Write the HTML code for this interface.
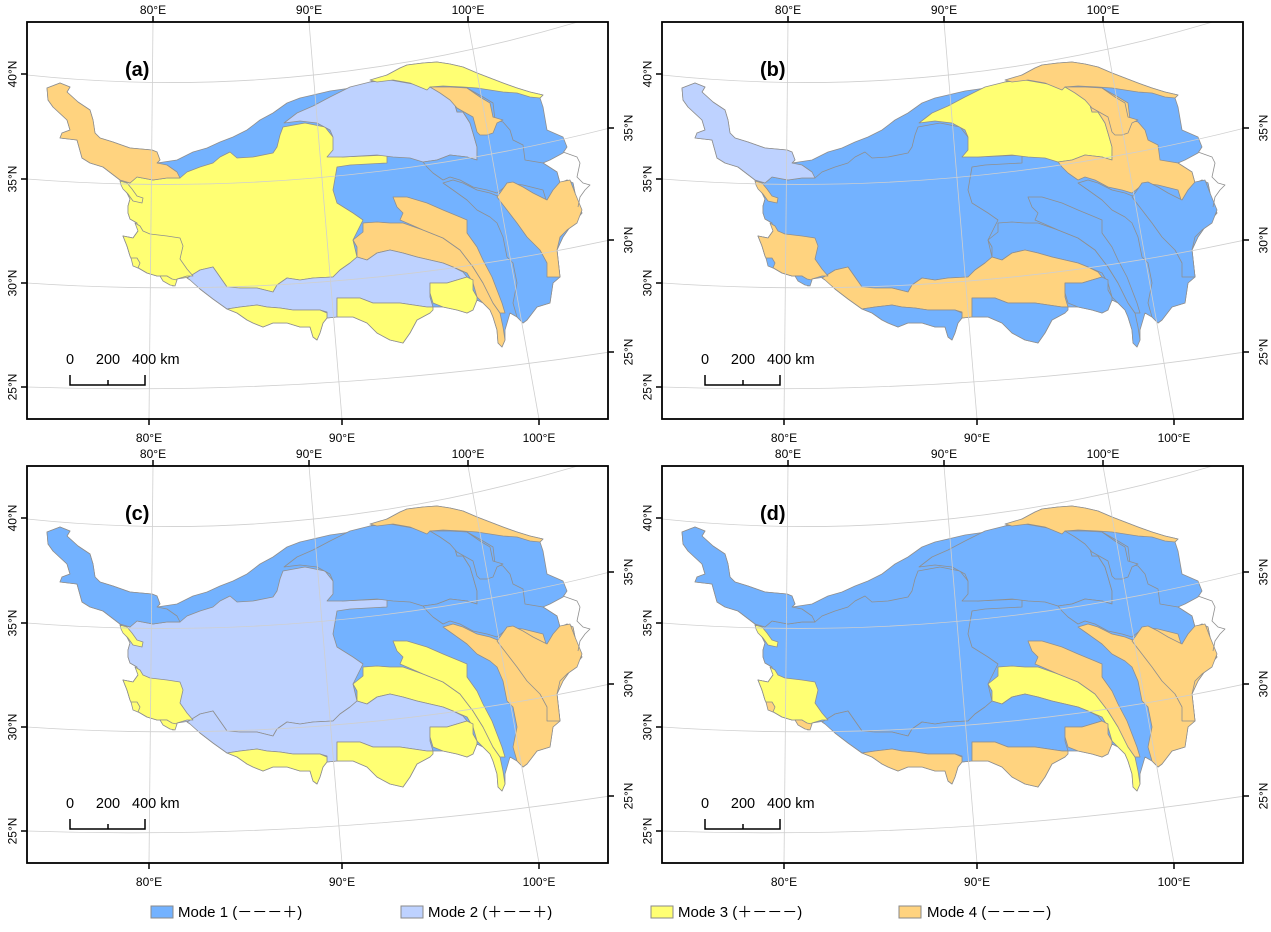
<!DOCTYPE html>
<html><head><meta charset="utf-8"><style>
html,body{margin:0;padding:0;background:#fff}
svg{display:block}
text{font-family:"Liberation Sans",Arial,sans-serif}
</style></head><body>
<svg xmlns="http://www.w3.org/2000/svg" width="1271" height="932" viewBox="0 0 1271 932">
<defs>
<clipPath id="clip"><rect x="27" y="22" width="581" height="397"/></clipPath>
<polygon id="OUT" points="47,88 60,83 70,87 67,92 78,102 90,110 93,120 95,133 100,138 113,142 130,148 152,150 157,152 160,160 157,163 177,160 193,152 207,148 220,142 233,137 247,130 260,120 273,113 287,103 300,98 313,95 330,91 358,87 370,82 387,75 400,68 407,65 423,63 437,62 450,64 463,67 477,73 490,78 503,83 517,88 530,92 543,95 540,98 543,107 547,130 563,137 567,147 563,153 550,160 543,163 557,172 560,183 567,180 573,183 577,203 582,213 570,227 563,237 557,250 560,277 553,283 550,303 537,307 527,320 523,323 517,317 510,313 505,330 505,340 502,347 498,343 497,330 493,317 490,310 483,303 477,300 473,310 467,313 457,310 443,307 433,307 430,313 417,320 410,333 403,343 390,340 377,333 367,323 353,317 337,317 327,318 323,323 320,333 317,340 313,337 310,327 300,327 287,323 273,323 263,327 253,323 247,320 237,313 227,309 213,299 200,289 193,276 187,276 177,279 173,286 167,276 157,276 147,273 135,266 130,256 127,246 123,236 133,238 138,231 137,223 130,219 128,213 128,206 130,199 127,193 122,186 120,180 103,167 90,163 82,158 77,140 60,138 62,133 70,130 67,120 53,107 48,100"/>
<polygon id="B1" points="47,88 60,83 70,87 67,92 78,102 90,110 93,120 95,133 100,138 113,142 130,148 152,150 157,152 160,160 157,163 167,165 177,172 180,178 167,178 153,180 137,177 130,183 120,180 103,167 90,163 82,158 77,140 60,138 62,133 70,130 67,120 53,107 48,100"/>
<polygon id="B7" points="122,186 120,180 130,183 137,177 153,180 167,178 180,178 187,172 200,167 213,163 220,157 230,152 237,158 253,157 273,153 277,147 280,135 283,127 305,123 325,127 333,137 337,147 342,157 387,155 387,163 350,165 337,167 333,190 337,203 353,213 363,220 353,240 357,257 350,263 340,270 333,277 313,278 300,280 287,278 277,285 273,292 257,288 240,288 227,287 220,277 213,267 200,270 190,277 177,279 173,286 167,276 157,276 147,273 135,266 130,256 127,246 123,236 133,238 138,231 137,223 130,219 128,213 128,206 130,199 127,193"/>
<polygon id="QD" points="284,123 297,113 313,106 330,97 350,87 370,82 390,80 407,83 430,87 443,92 453,98 457,112 463,112 470,123 473,133 477,147 477,160 467,157 450,155 437,160 423,162 410,158 393,157 377,155 343,157 327,157 333,150 333,137 330,130 317,123 300,121"/>
<polygon id="HX" points="370,80 387,75 400,68 407,65 423,63 437,62 450,64 463,67 477,73 490,78 503,83 517,88 530,92 543,95 540,98 530,97 517,93 503,92 490,90 477,88 463,87 443,86 430,87 427,90 410,83 393,80 377,82"/>
<polygon id="Y" points="430,87 467,88 483,97 493,103 495,120 503,122 510,130 513,140 523,145 525,160 543,163 557,172 560,183 550,197 547,202 540,197 523,193 507,185 497,193 487,190 473,187 460,180 450,177 443,180 433,173 427,167 423,162 437,160 450,155 467,157 477,160 477,147 473,133 470,123 463,112 457,112 453,98 443,92"/>
<polygon id="B5" points="430,87 450,87 467,88 480,97 490,103 493,117 503,120 497,123 493,133 487,135 480,135 477,132 473,117 457,108 450,100 440,93"/>
<polygon id="EO" points="443,183 453,180 463,183 477,190 490,193 500,197 507,183 523,185 543,190 547,203 557,190 567,180 573,183 577,203 582,213 570,227 563,237 557,250 560,277 553,283 550,303 537,307 527,320 523,323 517,317 513,303 517,283 513,263 507,257 503,237 497,223 490,217 477,210 467,200 453,190"/>
<polygon id="B11" points="500,193 507,183 513,182 523,187 533,193 547,200 553,190 560,182 570,180 575,193 582,210 577,223 567,230 560,237 557,250 560,277 547,277 547,263 540,250 527,237 517,223 507,210 497,197"/>
<polygon id="B10" points="393,197 407,197 427,203 443,210 460,217 467,220 467,233 477,247 483,260 492,277 497,290 502,303 505,313 500,313 493,303 483,283 473,267 460,250 443,238 423,230 407,223 400,220 403,213 397,207"/>
<polygon id="B10b" points="353,240 363,232 363,223 377,222 390,223 403,223 423,230 443,238 460,250 473,267 483,283 493,303 500,313 503,327 505,340 502,347 498,343 497,330 493,317 490,310 483,303 477,297 473,283 467,273 453,267 443,263 430,260 417,257 403,253 390,250 377,253 367,260 357,257 357,247"/>
<polygon id="B13" points="187,278 200,270 213,267 220,277 227,287 240,288 257,288 273,292 277,285 287,278 300,280 313,278 333,277 340,270 350,263 357,257 367,260 377,253 390,250 403,253 417,257 430,260 443,263 453,267 463,272 467,277 457,280 447,283 430,283 430,297 433,307 427,307 400,303 373,303 360,298 337,298 337,317 327,318 327,312 320,310 307,310 293,310 280,308 267,307 257,305 240,307 227,309 213,299 200,289 190,280"/>
<polygon id="B14" points="227,309 240,307 257,305 267,307 280,308 293,310 307,310 320,310 327,313 327,318 323,323 320,333 317,340 313,337 310,327 300,327 287,323 273,323 263,327 253,323 247,320 237,313"/>
<polygon id="B15" points="337,298 360,298 373,303 400,303 427,307 433,307 433,310 430,313 417,320 410,333 403,343 390,340 377,333 367,323 353,317 337,317"/>
<polygon id="B16" points="430,283 447,283 457,280 467,277 473,280 473,290 477,297 477,300 473,310 467,313 457,310 443,307 433,303 430,293"/>
<polygon id="B8" points="135,223 138,231 133,238 123,236 127,246 130,256 135,266 147,273 157,276 167,276 173,286 177,279 187,276 193,276 187,269 180,259 183,246 180,238 167,236 150,234 143,231 140,226"/>
<polygon id="B8s" points="120,181 127,183 132,189 137,196 143,198 142,203 133,201 128,194 123,189 121,185"/>
<polygon id="BA" points="131,258 137,258 140,263 138,268 133,266"/>
<polygon id="BB" points="160,276 167,276 172,279 177,280 175,286 170,285 163,281"/>
<polyline id="EXT" fill="none" points="563,152 577,157 580,163 577,177 583,183 590,185 585,190 580,197 578,207"/>
<g id="grat" fill="none">
<path d="M27,75 Q318,105.6 610,12"/>
<path d="M27,179 Q318,202 610,128"/>
<path d="M27,283 Q318,303 610,240"/>
<path d="M27,387 Q318,397 610,352"/>
<path d="M153,22 L149,419"/>
<path d="M309,22 L342,419"/>
<path d="M468,22 L539,419"/>
</g>
<g id="frm" fill="none" stroke="#000">
<rect x="27" y="22" width="581" height="397" stroke-width="1.8"/>
<path stroke-width="1.5" d="M21,74H27M21,179H27M21,283H27M21,387H27M608,128H614M608,240H614M608,352H614M153,16V22M309,16V22M468,16V22M149,419V425M342,419V425M539,419V425"/>
<path stroke-width="1.5" d="M70,375V385H145V375M108,380V385"/>
</g>
</defs>

<!-- Panel a -->
<g>
<g stroke="#8f8f8f" stroke-width="0.8" stroke-linejoin="round">
<use href="#OUT" fill="#73B2FF"/><use href="#B7" fill="#FFFF73"/><use href="#B1" fill="#FFD37F"/><use href="#QD" fill="#BED2FF"/><use href="#HX" fill="#FFFF73"/><use href="#Y" fill="#73B2FF"/><use href="#B5" fill="#FFD37F"/><use href="#EO" fill="#73B2FF"/><use href="#B11" fill="#FFD37F"/><use href="#B10b" fill="#FFD37F"/><use href="#B10" fill="#FFD37F"/><use href="#B13" fill="#BED2FF"/><use href="#B14" fill="#FFFF73"/><use href="#B15" fill="#FFFF73"/><use href="#B16" fill="#FFFF73"/><use href="#B8" fill="#FFFF73"/><use href="#B8s" fill="#FFFF73"/><use href="#BA" fill="#FFFF73"/><use href="#BB" fill="#FFFF73"/><use href="#EXT"/>
</g>
<g clip-path="url(#clip)" stroke="#cfcfcf" stroke-width="0.8"><use href="#grat"/></g>
<use href="#frm"/>
<g font-size="12" fill="#000" text-anchor="middle">
<text x="153" y="14">80°E</text><text x="309" y="14">90°E</text><text x="468" y="14">100°E</text>
<text x="149" y="442">80°E</text><text x="342" y="442">90°E</text><text x="539" y="442">100°E</text>
<text transform="translate(16.5,74) rotate(-90)">40°N</text><text transform="translate(16.5,179) rotate(-90)">35°N</text><text transform="translate(16.5,283) rotate(-90)">30°N</text><text transform="translate(16.5,387) rotate(-90)">25°N</text>
<text transform="translate(632.5,128) rotate(-90)">35°N</text><text transform="translate(632.5,240) rotate(-90)">30°N</text><text transform="translate(632.5,352) rotate(-90)">25°N</text>
</g>
<text x="125" y="76" font-size="20" font-weight="bold">(a)</text>
<g font-size="14.5"><text x="70" y="364" text-anchor="middle">0</text><text x="108" y="364" text-anchor="middle">200</text><text x="132" y="364">400 km</text></g>
</g>

<!-- Panel b -->
<g transform="translate(635,0)">
<g stroke="#8f8f8f" stroke-width="0.8" stroke-linejoin="round">
<use href="#OUT" fill="#73B2FF"/><use href="#B7" fill="#73B2FF"/><use href="#B1" fill="#BED2FF"/><use href="#QD" fill="#FFFF73"/><use href="#HX" fill="#FFD37F"/><use href="#Y" fill="#FFD37F"/><use href="#B5" fill="#FFD37F"/><use href="#EO" fill="#73B2FF"/><use href="#B11" fill="#73B2FF"/><use href="#B10b" fill="#73B2FF"/><use href="#B10" fill="#73B2FF"/><use href="#B13" fill="#FFD37F"/><use href="#B14" fill="#73B2FF"/><use href="#B15" fill="#73B2FF"/><use href="#B16" fill="#73B2FF"/><use href="#B8" fill="#FFD37F"/><use href="#B8s" fill="#FFD37F"/><use href="#BA" fill="#73B2FF"/><use href="#BB" fill="#73B2FF"/><use href="#EXT"/>
</g>
<g clip-path="url(#clip)" stroke="#cfcfcf" stroke-width="0.8"><use href="#grat"/></g>
<use href="#frm"/>
<g font-size="12" fill="#000" text-anchor="middle">
<text x="153" y="14">80°E</text><text x="309" y="14">90°E</text><text x="468" y="14">100°E</text>
<text x="149" y="442">80°E</text><text x="342" y="442">90°E</text><text x="539" y="442">100°E</text>
<text transform="translate(16.5,74) rotate(-90)">40°N</text><text transform="translate(16.5,179) rotate(-90)">35°N</text><text transform="translate(16.5,283) rotate(-90)">30°N</text><text transform="translate(16.5,387) rotate(-90)">25°N</text>
<text transform="translate(632.5,128) rotate(-90)">35°N</text><text transform="translate(632.5,240) rotate(-90)">30°N</text><text transform="translate(632.5,352) rotate(-90)">25°N</text>
</g>
<text x="125" y="76" font-size="20" font-weight="bold">(b)</text>
<g font-size="14.5"><text x="70" y="364" text-anchor="middle">0</text><text x="108" y="364" text-anchor="middle">200</text><text x="132" y="364">400 km</text></g>
</g>

<!-- Panel c -->
<g transform="translate(0,444)">
<g stroke="#8f8f8f" stroke-width="0.8" stroke-linejoin="round">
<use href="#OUT" fill="#73B2FF"/><use href="#B7" fill="#BED2FF"/><use href="#B1" fill="#73B2FF"/><use href="#QD" fill="#73B2FF"/><use href="#HX" fill="#FFD37F"/><use href="#Y" fill="#73B2FF"/><use href="#B5" fill="#73B2FF"/><use href="#EO" fill="#FFD37F"/><use href="#B11" fill="#FFD37F"/><use href="#B10b" fill="#FFFF73"/><use href="#B10" fill="#FFFF73"/><use href="#B13" fill="#BED2FF"/><use href="#B14" fill="#FFFF73"/><use href="#B15" fill="#FFFF73"/><use href="#B16" fill="#FFFF73"/><use href="#B8" fill="#FFFF73"/><use href="#B8s" fill="#FFFF73"/><use href="#BA" fill="#FFFF73"/><use href="#BB" fill="#FFFF73"/><use href="#EXT"/>
</g>
<g clip-path="url(#clip)" stroke="#cfcfcf" stroke-width="0.8"><use href="#grat"/></g>
<use href="#frm"/>
<g font-size="12" fill="#000" text-anchor="middle">
<text x="153" y="14">80°E</text><text x="309" y="14">90°E</text><text x="468" y="14">100°E</text>
<text x="149" y="442">80°E</text><text x="342" y="442">90°E</text><text x="539" y="442">100°E</text>
<text transform="translate(16.5,74) rotate(-90)">40°N</text><text transform="translate(16.5,179) rotate(-90)">35°N</text><text transform="translate(16.5,283) rotate(-90)">30°N</text><text transform="translate(16.5,387) rotate(-90)">25°N</text>
<text transform="translate(632.5,128) rotate(-90)">35°N</text><text transform="translate(632.5,240) rotate(-90)">30°N</text><text transform="translate(632.5,352) rotate(-90)">25°N</text>
</g>
<text x="125" y="76" font-size="20" font-weight="bold">(c)</text>
<g font-size="14.5"><text x="70" y="364" text-anchor="middle">0</text><text x="108" y="364" text-anchor="middle">200</text><text x="132" y="364">400 km</text></g>
</g>

<!-- Panel d -->
<g transform="translate(635,444)">
<g stroke="#8f8f8f" stroke-width="0.8" stroke-linejoin="round">
<use href="#OUT" fill="#73B2FF"/><use href="#B7" fill="#73B2FF"/><use href="#B1" fill="#73B2FF"/><use href="#QD" fill="#73B2FF"/><use href="#HX" fill="#FFD37F"/><use href="#Y" fill="#73B2FF"/><use href="#B5" fill="#73B2FF"/><use href="#EO" fill="#FFD37F"/><use href="#B11" fill="#FFD37F"/><use href="#B10b" fill="#FFFF73"/><use href="#B10" fill="#FFD37F"/><use href="#B13" fill="#73B2FF"/><use href="#B14" fill="#FFD37F"/><use href="#B15" fill="#FFD37F"/><use href="#B16" fill="#FFD37F"/><use href="#B8" fill="#FFFF73"/><use href="#B8s" fill="#FFFF73"/><use href="#BA" fill="#FFD37F"/><use href="#BB" fill="#FFD37F"/><use href="#EXT"/>
</g>
<g clip-path="url(#clip)" stroke="#cfcfcf" stroke-width="0.8"><use href="#grat"/></g>
<use href="#frm"/>
<g font-size="12" fill="#000" text-anchor="middle">
<text x="153" y="14">80°E</text><text x="309" y="14">90°E</text><text x="468" y="14">100°E</text>
<text x="149" y="442">80°E</text><text x="342" y="442">90°E</text><text x="539" y="442">100°E</text>
<text transform="translate(16.5,74) rotate(-90)">40°N</text><text transform="translate(16.5,179) rotate(-90)">35°N</text><text transform="translate(16.5,283) rotate(-90)">30°N</text><text transform="translate(16.5,387) rotate(-90)">25°N</text>
<text transform="translate(632.5,128) rotate(-90)">35°N</text><text transform="translate(632.5,240) rotate(-90)">30°N</text><text transform="translate(632.5,352) rotate(-90)">25°N</text>
</g>
<text x="125" y="76" font-size="20" font-weight="bold">(d)</text>
<g font-size="14.5"><text x="70" y="364" text-anchor="middle">0</text><text x="108" y="364" text-anchor="middle">200</text><text x="132" y="364">400 km</text></g>
</g>

<!-- Legend -->
<g stroke="#8a8a8a" stroke-width="1">
<rect x="151" y="906" width="22" height="12" fill="#73B2FF"/>
<rect x="401" y="906" width="22" height="12" fill="#BED2FF"/>
<rect x="651" y="906" width="22" height="12" fill="#FFFF73"/>
<rect x="899" y="906" width="22" height="12" fill="#FFD37F"/>
</g>
<g font-size="15" fill="#000" style="font-family:'Liberation Sans','Noto Sans CJK SC',sans-serif">
<text x="178" y="917">Mode 1 (－－－＋)</text>
<text x="428" y="917">Mode 2 (＋－－＋)</text>
<text x="678" y="917">Mode 3 (＋－－－)</text>
<text x="927" y="917">Mode 4 (－－－－)</text>
</g>
</svg>
</body></html>
